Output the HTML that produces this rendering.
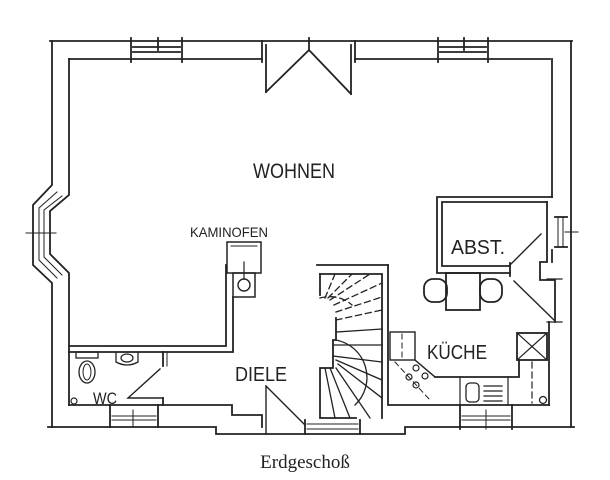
<!DOCTYPE html>
<html><head><meta charset="utf-8"><style>
html,body{margin:0;padding:0;background:#fff;width:610px;height:480px;overflow:hidden}
svg{display:block}
text{font-family:"Liberation Sans Narrow","Liberation Sans",sans-serif;fill:#222}
</style></head><body>
<svg width="610" height="480" viewBox="0 0 610 480" xmlns="http://www.w3.org/2000/svg">
<g stroke="#222" stroke-width="1.8" fill="none" stroke-linecap="square">
<line x1="50" y1="41" x2="572" y2="41"/>
<line x1="69" y1="59" x2="262" y2="59"/>
<line x1="355" y1="59" x2="550" y2="59"/>
<line x1="131" y1="38" x2="131" y2="62"/><line x1="182" y1="38" x2="182" y2="62"/><line x1="158" y1="38" x2="158" y2="50"/>
<line x1="133" y1="47" x2="180" y2="47"/><line x1="133" y1="52" x2="180" y2="52"/>
<line x1="438" y1="38" x2="438" y2="62"/><line x1="488" y1="38" x2="488" y2="62"/><line x1="464" y1="38" x2="464" y2="50"/>
<line x1="440" y1="47" x2="486" y2="47"/><line x1="440" y1="52" x2="486" y2="52"/>
<line x1="262" y1="41" x2="262" y2="62"/><line x1="355" y1="41" x2="355" y2="62"/>
<line x1="266" y1="45" x2="266" y2="92"/><line x1="351" y1="45" x2="351" y2="94"/>
<polyline points="266,92 309,50 351,94"/>
<line x1="309" y1="38" x2="309" y2="50"/>
<polyline points="52,41 52,185 33,205 33,265 52,283 52,427"/>
<polyline points="69,59 69,195 50,211 50,254 69,273 69,405"/>
<polyline points="57,192 39,208 39,260 57,278" stroke-width="1"/>
<polyline points="62,196 44,210 44,257 62,275" stroke-width="1"/>
<line x1="26" y1="233" x2="56" y2="233" stroke-width="1"/>
<polyline points="571,41 571,427"/>
<line x1="552" y1="59" x2="552" y2="197"/>
<line x1="555" y1="217" x2="567" y2="217"/><line x1="555" y1="247" x2="567" y2="247"/>
<line x1="558" y1="217" x2="558" y2="247" stroke-width="1"/><line x1="563" y1="217" x2="563" y2="247" stroke-width="1"/>
<line x1="565" y1="232" x2="578" y2="232" stroke-width="1"/>
<polyline points="552,197 437,197 437,273 510,273"/>
<polyline points="547,202 442,202 442,266 510,266"/>
<line x1="510" y1="263" x2="510" y2="276"/>
<line x1="511" y1="264" x2="541" y2="234" stroke-width="1.4"/>
<polyline points="547,202 547,262 540,262 540,280 555,280 555,322"/>
<line x1="552" y1="250" x2="552" y2="262"/>
<line x1="547" y1="279" x2="562" y2="279" stroke-width="1.2"/>
<line x1="514" y1="281" x2="554" y2="320" stroke-width="1.4"/>
<line x1="547" y1="322" x2="562" y2="322" stroke-width="1.2"/>
<line x1="549" y1="322" x2="549" y2="405"/>
<rect x="446" y="273" width="34" height="37"/>
<rect x="424" y="279" width="23" height="23" rx="9"/>
<rect x="480" y="279" width="22" height="23" rx="9"/>
<rect x="517" y="333" width="30" height="27"/>
<line x1="517" y1="333" x2="547" y2="360" stroke-width="1.2"/><line x1="547" y1="333" x2="517" y2="360" stroke-width="1.2"/>
<polyline points="519,360 519,377 435,377"/>
<line x1="532" y1="362" x2="532" y2="403" stroke-dasharray="6,4" stroke-width="1.2"/>
<circle cx="543" cy="400" r="3.5" stroke-width="1.3"/>
<line x1="460" y1="377" x2="460" y2="405" stroke-width="1.2"/><line x1="508" y1="377" x2="508" y2="405" stroke-width="1.2"/>
<rect x="466" y="383" width="13" height="19" rx="4" stroke-width="1.3"/>
<g stroke-width="1.2"><line x1="484" y1="386" x2="502" y2="386"/><line x1="484" y1="391" x2="502" y2="391"/><line x1="484" y1="396" x2="502" y2="396"/><line x1="484" y1="401" x2="502" y2="401"/></g>
<rect x="390" y="332" width="25" height="28" stroke-width="1.4"/>
<line x1="402" y1="334" x2="402" y2="358" stroke-dasharray="5,4" stroke-width="1"/>
<polyline points="415,360 435,377" stroke-width="1.4"/>
<line x1="395" y1="362" x2="430" y2="400" stroke-dasharray="5,4" stroke-width="1"/>
<g stroke-width="1.2"><circle cx="416" cy="368" r="3"/><circle cx="425" cy="376" r="3"/><circle cx="409" cy="377" r="3"/><circle cx="416" cy="385" r="3"/></g>
<polyline points="388,265 388,405 549,405"/>
<polyline points="317,265 388,265"/>
<polyline points="320,274 382,274 382,418"/>
<line x1="320" y1="274" x2="320" y2="295"/>
<polyline points="336,318 336,340 333,340 333,368 320,368 320,418 356,418"/>
<g stroke-width="1.3">
<line x1="336" y1="332" x2="382" y2="329"/><line x1="333" y1="345" x2="382" y2="345"/>
<line x1="333" y1="356" x2="382" y2="362"/><line x1="336" y1="360" x2="382" y2="380"/>
<line x1="338" y1="364" x2="382" y2="398"/><line x1="336" y1="368" x2="370" y2="418"/>
<line x1="330" y1="368" x2="350" y2="418"/><line x1="325" y1="368" x2="335" y2="418"/>
<path d="M336,340 A38,38 0 0 1 355,405"/>
</g>
<g stroke-width="1.3" stroke-dasharray="6,4">
<line x1="336" y1="320" x2="382" y2="310"/><line x1="336" y1="312" x2="382" y2="297"/>
<line x1="334" y1="305" x2="382" y2="283"/><line x1="330" y1="300" x2="370" y2="274"/>
<line x1="328" y1="298" x2="352" y2="274"/><line x1="325" y1="298" x2="335" y2="274"/>
<path d="M320,298 A30,25 0 0 1 352,305"/>
</g>
<polyline points="69,346 226,346 226,265"/>
<polyline points="69,352 233,352 233,297"/>
<rect x="227" y="242" width="34" height="31" stroke-width="1.5"/>
<line x1="231" y1="246" x2="257" y2="246" stroke-width="1"/>
<rect x="233" y="273" width="22" height="24" stroke-width="1.5"/>
<circle cx="244" cy="285" r="6" stroke-width="1.4"/>
<line x1="244" y1="262" x2="244" y2="279" stroke-width="1.2"/>
<line x1="163" y1="352" x2="163" y2="366"/><line x1="167" y1="352" x2="167" y2="366" stroke-width="1"/>
<polyline points="160,369 128,398 163,398" stroke-width="1.4"/>
<line x1="163" y1="398" x2="163" y2="405"/>
<rect x="76" y="352" width="22" height="6" stroke-width="1.3"/>
<ellipse cx="87" cy="372" rx="8" ry="11" stroke-width="1.3"/>
<ellipse cx="87" cy="372" rx="4" ry="8" stroke-width="1"/>
<path d="M116,352 L116,362 Q127,368 138,362 L138,352" stroke-width="1.3"/>
<ellipse cx="127" cy="358" rx="6" ry="4" stroke-width="1.2"/>
<circle cx="74" cy="401" r="3" stroke-width="1.2"/>
<polyline points="69,405 232,405 232,415 262,415 262,427"/>
<line x1="110" y1="405" x2="110" y2="427"/><line x1="158" y1="405" x2="158" y2="427"/><line x1="133" y1="410" x2="133" y2="427" stroke-width="1"/>
<line x1="112" y1="416" x2="156" y2="416" stroke-width="1"/><line x1="112" y1="420" x2="156" y2="420" stroke-width="1"/>
<line x1="266" y1="386" x2="266" y2="434" stroke-width="1.4"/>
<line x1="266" y1="386" x2="305" y2="425" stroke-width="1.4"/>
<line x1="305" y1="420" x2="305" y2="434"/><line x1="360" y1="420" x2="360" y2="434"/>
<line x1="307" y1="424" x2="358" y2="424" stroke-width="1"/><line x1="307" y1="429" x2="358" y2="429" stroke-width="1"/>
<polyline points="48,427 216,427 216,434 405,434 405,427 574,427"/>
<line x1="460" y1="405" x2="460" y2="429"/><line x1="512" y1="405" x2="512" y2="429"/><line x1="486" y1="410" x2="486" y2="429" stroke-width="1"/>
<line x1="462" y1="416" x2="510" y2="416" stroke-width="1"/><line x1="462" y1="420" x2="510" y2="420" stroke-width="1"/>
</g>
<text x="253" y="178" font-size="21" textLength="82" lengthAdjust="spacingAndGlyphs">WOHNEN</text>
<text x="190" y="237" font-size="14" textLength="78" lengthAdjust="spacingAndGlyphs">KAMINOFEN</text>
<text x="451" y="254" font-size="20" textLength="54" lengthAdjust="spacingAndGlyphs">ABST.</text>
<text x="427" y="359" font-size="20" textLength="60" lengthAdjust="spacingAndGlyphs">KÜCHE</text>
<text x="235" y="381" font-size="20" textLength="52" lengthAdjust="spacingAndGlyphs">DIELE</text>
<text x="93" y="404" font-size="17" textLength="24" lengthAdjust="spacingAndGlyphs">WC</text>
<text x="305" y="468" font-size="19" text-anchor="middle" style="font-family:'Liberation Serif',serif">Erdgeschoß</text>
</svg>
</body></html>
